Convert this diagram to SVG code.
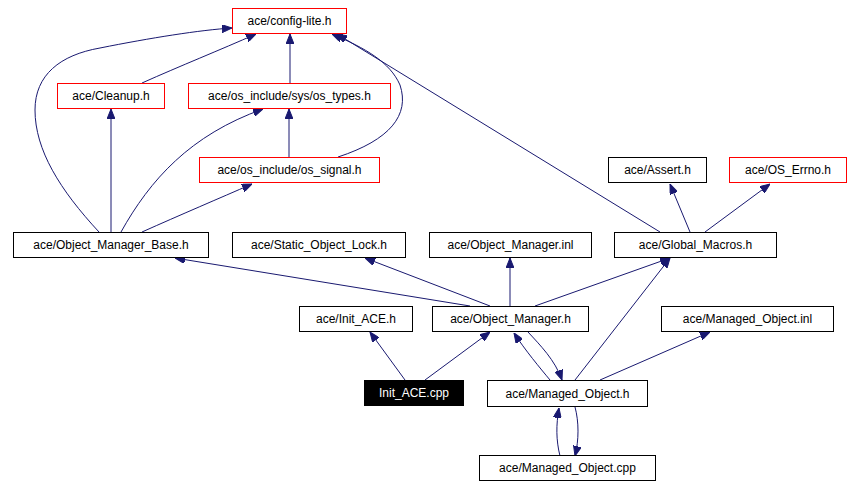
<svg xmlns="http://www.w3.org/2000/svg" width="852" height="488" viewBox="0 0 852 488">
<defs>
<marker id="a" markerWidth="10" markerHeight="8" refX="10" refY="4" orient="auto" markerUnits="userSpaceOnUse"><path d="M0,0 L10,4 L0,8 Z" fill="#191970" stroke="#191970"/></marker>
<style>
.n rect{fill:#fff;stroke:#000;stroke-width:1}
.r rect{stroke:#f00}
text{font-family:"Liberation Sans",Arial,sans-serif;font-size:12px;text-anchor:middle;fill:#000}
.e path{fill:none;stroke:#191970;stroke-width:1;marker-end:url(#a)}
</style>
</defs>
<rect width="852" height="488" fill="#fff"/>
<g class="e">
<path d="M99,232 C60,190 35,150 35,110 C35,75 60,55 100,48 C150,38 200,30 232,28"/>
<path d="M142,83 C180,66 220,50 256,34"/>
<path d="M290,83 L290,34"/>
<path d="M338,157 C390,140 410,115 400,85 C390,62 365,48 332,34"/>
<path d="M660,232 L337,34"/>
<path d="M111,232 L111,109"/>
<path d="M121,232 C150,180 190,135 263,109"/>
<path d="M142,232 C180,215 220,198 252,184"/>
<path d="M289,157 L289,109"/>
<path d="M690,232 L670,184"/>
<path d="M705,232 L770,184"/>
<path d="M470,306 L175,258"/>
<path d="M490,306 L365,258"/>
<path d="M510,306 L510,258"/>
<path d="M535,306 L670,258"/>
<path d="M405,380 L370,332"/>
<path d="M425,380 L490,332"/>
<path d="M550,380 C540,368 525,350 514,333"/>
<path d="M528,332 C540,345 555,360 562,380"/>
<path d="M575,380 L670,258"/>
<path d="M600,380 L710,332"/>
<path d="M560,456 C556,440 556,425 559,408"/>
<path d="M575,407 C579,422 579,440 575,456"/>
</g>
<g id="config" class="n r"><rect x="232.5" y="8.5" width="114" height="25"/><text x="289.5" y="25">ace/config-lite.h</text></g>
<g id="cleanup" class="n r"><rect x="57.5" y="83.5" width="107" height="25"/><text x="111" y="100">ace/Cleanup.h</text></g>
<g id="ostypes" class="n r"><rect x="188.5" y="83.5" width="202" height="25"/><text x="289.5" y="100">ace/os_include/sys/os_types.h</text></g>
<g id="ossignal" class="n r"><rect x="199.5" y="157.5" width="180" height="25"/><text x="289.5" y="174">ace/os_include/os_signal.h</text></g>
<g id="assert" class="n"><rect x="608.5" y="157.5" width="98" height="25"/><text x="657.5" y="174">ace/Assert.h</text></g>
<g id="oserrno" class="n r"><rect x="729.5" y="157.5" width="117" height="25"/><text x="788" y="174">ace/OS_Errno.h</text></g>
<g id="omb" class="n"><rect x="13.5" y="232.5" width="195" height="25"/><text x="111" y="249">ace/Object_Manager_Base.h</text></g>
<g id="sol" class="n"><rect x="232.5" y="232.5" width="173" height="25"/><text x="319" y="249">ace/Static_Object_Lock.h</text></g>
<g id="ominl" class="n"><rect x="429.5" y="232.5" width="162" height="25"/><text x="510.5" y="249">ace/Object_Manager.inl</text></g>
<g id="gm" class="n"><rect x="614.5" y="232.5" width="162" height="25"/><text x="695.5" y="249">ace/Global_Macros.h</text></g>
<g id="initace" class="n"><rect x="299.5" y="306.5" width="113" height="25"/><text x="356" y="323">ace/Init_ACE.h</text></g>
<g id="om" class="n"><rect x="432.5" y="306.5" width="156" height="25"/><text x="510.5" y="323">ace/Object_Manager.h</text></g>
<g id="moinl" class="n"><rect x="661.5" y="306.5" width="172" height="25"/><text x="747.5" y="323">ace/Managed_Object.inl</text></g>
<g id="initcpp"><rect x="364.5" y="380.5" width="99" height="25" fill="#000" stroke="#000"/><text x="414" y="397" style="fill:#fff">Init_ACE.cpp</text></g>
<g id="moh" class="n"><rect x="487.5" y="380.5" width="160" height="26"/><text x="567.5" y="398">ace/Managed_Object.h</text></g>
<g id="mocpp" class="n"><rect x="479.5" y="455.5" width="176" height="25"/><text x="567.5" y="472">ace/Managed_Object.cpp</text></g>
</svg>
